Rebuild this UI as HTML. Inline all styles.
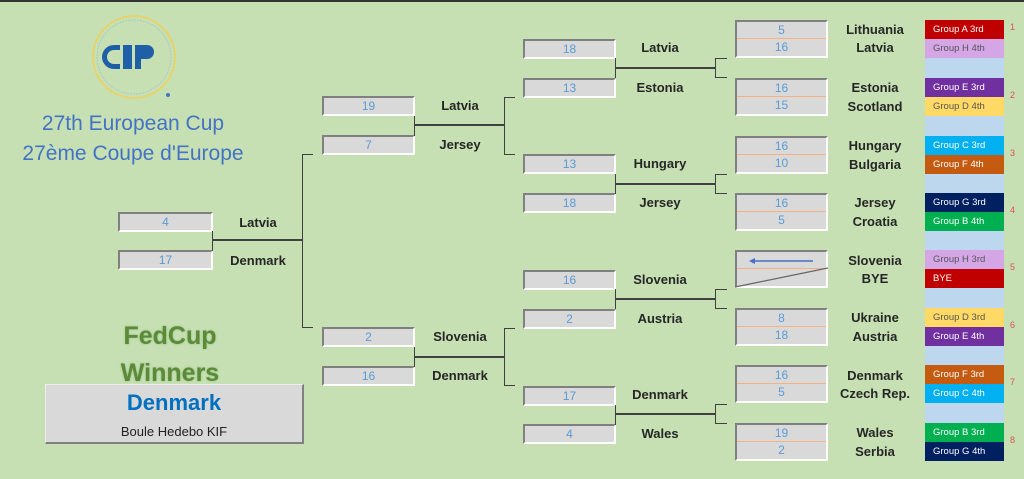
<!DOCTYPE html>
<html><head><meta charset="utf-8"><style>
body{margin:0;width:1024px;height:479px;background:#c6e0b4;position:relative;overflow:hidden;font-family:"Liberation Sans",sans-serif}
.a{position:absolute}
.sb{position:absolute;background:#d9d9d9;border-top:2px solid #808080;border-left:2px solid #808080;border-bottom:2px solid #fff;border-right:2px solid #fff;box-sizing:border-box;text-align:center;color:#5b9bd5;font-size:12px;line-height:16px}
.pr{position:absolute;width:93px;height:38px;background:#d9d9d9;border-top:2px solid #808080;border-left:2px solid #808080;border-bottom:2px solid #fff;border-right:2px solid #fff;box-sizing:border-box;color:#5b9bd5;font-size:12px;text-align:center;overflow:hidden}
.pr div{height:16px;line-height:16px}
.pr div.t{border-bottom:1px solid #f4b183}
.n{position:absolute;width:120px;text-align:center;font-weight:bold;font-size:13px;color:#262626;line-height:16px}
.g{position:absolute;left:925px;width:79px;height:19px;font-size:9.5px;line-height:19px;padding-left:8px;box-sizing:border-box;color:#fff}
.k{position:absolute;left:1010px;font-size:9px;color:#e05050}
.l{position:absolute;background:#404040}
</style></head><body>
<div class="a" style="left:0;top:0;width:1024px;height:2px;background:#333"></div>

<svg class="a" style="left:88px;top:12px" width="95" height="92">
<circle cx="46" cy="45" r="41" fill="none" stroke="#e6d36a" stroke-width="2"/>
<circle cx="46" cy="45" r="37" fill="none" stroke="#9bb8d8" stroke-width="0.6" stroke-dasharray="2 1"/>
<path d="M32 33 h-6 a12 12 0 0 0 0 24 h6 v-5 h-6 a7 7 0 0 1 0 -14 h6z" fill="#1f5fa8"/>
<rect x="35" y="33" width="9" height="24" fill="#1f5fa8"/>
<path d="M47 33 h12 a7 7 0 0 1 0 14 h-6 v10 h-6z" fill="#1f5fa8"/>
<circle cx="80" cy="83" r="2" fill="#4472c4"/>
</svg>
<div class="a" style="left:0;width:266px;top:109px;text-align:center;color:#4472c4;font-size:21px;line-height:30px">27th European Cup<br>27ème Coupe d'Europe</div>

<div class="a" style="left:70px;width:200px;top:318px;text-align:center;color:#5b8a3a;font-size:25px;font-weight:bold;line-height:37px;text-shadow:0 0 2px #8db870">FedCup<br>Winners</div>
<div class="a" style="left:45px;top:384px;width:259px;height:60px;background:#d9d9d9;border-right:2px solid #808080;border-bottom:2px solid #808080;border-top:1px solid #eee;border-left:1px solid #eee;box-sizing:border-box">
<div style="text-align:center;color:#0070c0;font-weight:bold;font-size:22px;margin-top:5px">Denmark</div>
<div style="text-align:center;color:#222;font-size:13px;margin-top:8px">Boule Hedebo KIF</div></div>

<div class="a" style="left:925px;top:20px;width:79px;height:441px;background:#bdd7ee"></div>

<div class="pr" style="left:735px;top:20px"><div class="t">5</div><div>16</div></div>
<div class="pr" style="left:735px;top:78px"><div class="t">16</div><div>15</div></div>
<div class="pr" style="left:735px;top:136px"><div class="t">16</div><div>10</div></div>
<div class="pr" style="left:735px;top:193px"><div class="t">16</div><div>5</div></div>
<div class="pr" style="left:735px;top:250px"><div class="t"></div><div></div></div>
<svg class="a" style="left:735px;top:250px" width="93" height="38"><line x1="18" y1="11" x2="78" y2="11" stroke="#4472c4" stroke-width="1.5"/><path d="M14 11 l6 -3 v6z" fill="#4472c4"/><line x1="0" y1="37" x2="93" y2="18" stroke="#666" stroke-width="1.2"/></svg>
<div class="pr" style="left:735px;top:308px"><div class="t">8</div><div>18</div></div>
<div class="pr" style="left:735px;top:365px"><div class="t">16</div><div>5</div></div>
<div class="pr" style="left:735px;top:423px"><div class="t">19</div><div>2</div></div>

<div class="n" style="left:815px;top:22px">Lithuania</div><div class="n" style="left:815px;top:40px">Latvia</div>
<div class="n" style="left:815px;top:80px">Estonia</div><div class="n" style="left:815px;top:99px">Scotland</div>
<div class="n" style="left:815px;top:138px">Hungary</div><div class="n" style="left:815px;top:157px">Bulgaria</div>
<div class="n" style="left:815px;top:195px">Jersey</div><div class="n" style="left:815px;top:214px">Croatia</div>
<div class="n" style="left:815px;top:253px">Slovenia</div><div class="n" style="left:815px;top:271px">BYE</div>
<div class="n" style="left:815px;top:310px">Ukraine</div><div class="n" style="left:815px;top:329px">Austria</div>
<div class="n" style="left:815px;top:368px">Denmark</div><div class="n" style="left:815px;top:386px">Czech Rep.</div>
<div class="n" style="left:815px;top:425px">Wales</div><div class="n" style="left:815px;top:444px">Serbia</div>

<div class="g" style="top:20px;background:#c00000">Group A 3rd</div><div class="g" style="top:39px;background:#d5a6e6;color:#555">Group H 4th</div>
<div class="g" style="top:78px;background:#7030a0">Group E 3rd</div><div class="g" style="top:97px;background:#ffd966;color:#555">Group D 4th</div>
<div class="g" style="top:136px;background:#00b0f0">Group C 3rd</div><div class="g" style="top:155px;background:#c55a11">Group F 4th</div>
<div class="g" style="top:193px;background:#002060">Group G 3rd</div><div class="g" style="top:212px;background:#00b050">Group B 4th</div>
<div class="g" style="top:250px;background:#d5a6e6;color:#555">Group H 3rd</div><div class="g" style="top:269px;background:#c00000">BYE</div>
<div class="g" style="top:308px;background:#ffd966;color:#555">Group D 3rd</div><div class="g" style="top:327px;background:#7030a0">Group E 4th</div>
<div class="g" style="top:365px;background:#c55a11">Group F 3rd</div><div class="g" style="top:384px;background:#00b0f0">Group C 4th</div>
<div class="g" style="top:423px;background:#00b050">Group B 3rd</div><div class="g" style="top:442px;background:#002060">Group G 4th</div>
<div class="k" style="top:22px">1</div><div class="k" style="top:90px">2</div><div class="k" style="top:148px">3</div><div class="k" style="top:205px">4</div>
<div class="k" style="top:262px">5</div><div class="k" style="top:320px">6</div><div class="k" style="top:377px">7</div><div class="k" style="top:435px">8</div>

<div class="sb" style="left:523px;top:39px;width:93px;height:20px">18</div>
<div class="sb" style="left:523px;top:78px;width:93px;height:20px">13</div>
<div class="sb" style="left:523px;top:154px;width:93px;height:20px">13</div>
<div class="sb" style="left:523px;top:193px;width:93px;height:20px">18</div>
<div class="sb" style="left:523px;top:270px;width:93px;height:20px">16</div>
<div class="sb" style="left:523px;top:309px;width:93px;height:20px">2</div>
<div class="sb" style="left:523px;top:386px;width:93px;height:20px">17</div>
<div class="sb" style="left:523px;top:424px;width:93px;height:20px">4</div>
<div class="n" style="left:600px;top:40px">Latvia</div><div class="n" style="left:600px;top:80px">Estonia</div>
<div class="n" style="left:600px;top:156px">Hungary</div><div class="n" style="left:600px;top:195px">Jersey</div>
<div class="n" style="left:600px;top:272px">Slovenia</div><div class="n" style="left:600px;top:311px">Austria</div>
<div class="n" style="left:600px;top:387px">Denmark</div><div class="n" style="left:600px;top:426px">Wales</div>

<div class="l" style="left:615px;top:58px;width:1px;height:20px"></div><div class="l" style="left:615px;top:67px;width:101px;height:2px"></div>
<div class="l" style="left:715px;top:58px;width:1px;height:20px"></div><div class="l" style="left:715px;top:58px;width:12px;height:1px"></div><div class="l" style="left:715px;top:77px;width:12px;height:1px"></div>
<div class="l" style="left:615px;top:174px;width:1px;height:20px"></div><div class="l" style="left:615px;top:183px;width:101px;height:2px"></div>
<div class="l" style="left:715px;top:174px;width:1px;height:20px"></div><div class="l" style="left:715px;top:174px;width:12px;height:1px"></div><div class="l" style="left:715px;top:193px;width:12px;height:1px"></div>
<div class="l" style="left:615px;top:289px;width:1px;height:20px"></div><div class="l" style="left:615px;top:298px;width:101px;height:2px"></div>
<div class="l" style="left:715px;top:289px;width:1px;height:20px"></div><div class="l" style="left:715px;top:289px;width:12px;height:1px"></div><div class="l" style="left:715px;top:308px;width:12px;height:1px"></div>
<div class="l" style="left:615px;top:405px;width:1px;height:20px"></div><div class="l" style="left:615px;top:413px;width:101px;height:2px"></div>
<div class="l" style="left:715px;top:404px;width:1px;height:20px"></div><div class="l" style="left:715px;top:404px;width:12px;height:1px"></div><div class="l" style="left:715px;top:423px;width:12px;height:1px"></div>

<div class="sb" style="left:322px;top:96px;width:93px;height:20px">19</div>
<div class="sb" style="left:322px;top:135px;width:93px;height:20px">7</div>
<div class="sb" style="left:322px;top:327px;width:93px;height:20px">2</div>
<div class="sb" style="left:322px;top:366px;width:93px;height:20px">16</div>
<div class="n" style="left:400px;top:98px">Latvia</div><div class="n" style="left:400px;top:137px">Jersey</div>
<div class="n" style="left:400px;top:329px">Slovenia</div><div class="n" style="left:400px;top:368px">Denmark</div>
<div class="l" style="left:414px;top:116px;width:1px;height:20px"></div><div class="l" style="left:414px;top:124px;width:91px;height:2px"></div>
<div class="l" style="left:504px;top:97px;width:1px;height:58px"></div><div class="l" style="left:504px;top:97px;width:11px;height:1px"></div><div class="l" style="left:504px;top:154px;width:11px;height:1px"></div>
<div class="l" style="left:414px;top:347px;width:1px;height:20px"></div><div class="l" style="left:414px;top:356px;width:91px;height:2px"></div>
<div class="l" style="left:504px;top:328px;width:1px;height:58px"></div><div class="l" style="left:504px;top:328px;width:11px;height:1px"></div><div class="l" style="left:504px;top:385px;width:11px;height:1px"></div>

<div class="sb" style="left:118px;top:212px;width:95px;height:20px">4</div>
<div class="sb" style="left:118px;top:250px;width:95px;height:20px">17</div>
<div class="n" style="left:198px;top:215px">Latvia</div><div class="n" style="left:198px;top:253px">Denmark</div>
<div class="l" style="left:212px;top:231px;width:1px;height:20px"></div><div class="l" style="left:212px;top:239px;width:91px;height:2px"></div>
<div class="l" style="left:302px;top:154px;width:1px;height:174px"></div><div class="l" style="left:302px;top:154px;width:11px;height:1px"></div><div class="l" style="left:302px;top:327px;width:11px;height:1px"></div>
</body></html>
